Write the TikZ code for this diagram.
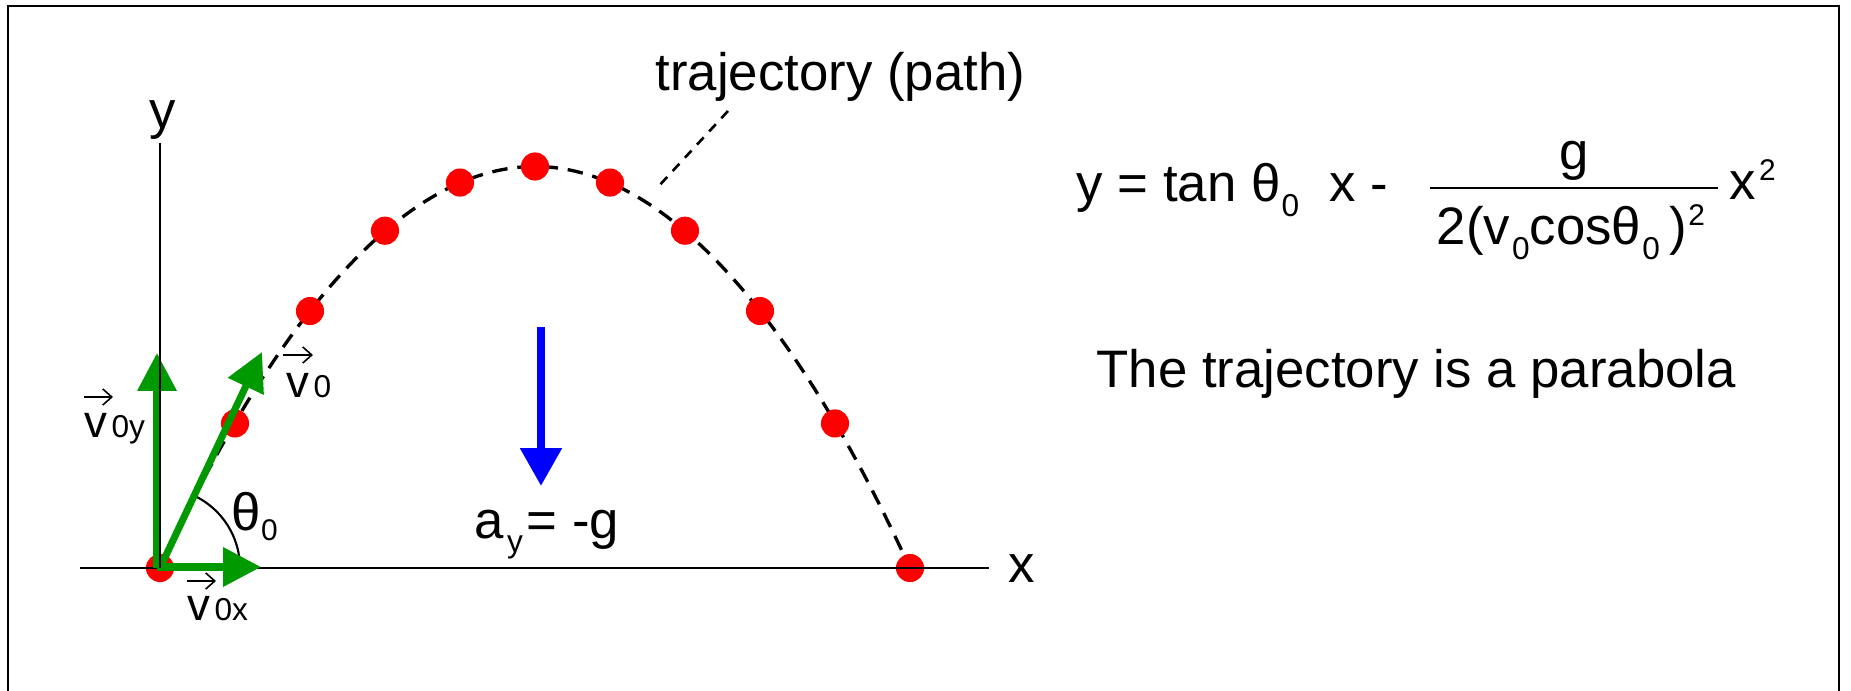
\documentclass[tikz,border=0pt]{standalone}
\usepackage{fontspec}
\setmainfont{Liberation Sans}
\usetikzlibrary{arrows.meta}
\definecolor{vgreen}{RGB}{0,153,0}
\newdimen\px \px=0.28453pt
\newcommand\fs[1]{\fontsize{#1}{#1}\selectfont}
\newcommand\lo[2][0]{\hspace{#1\px}\raisebox{-14\px}{\fs{9}#2}}
\newcommand\hi[2][0]{\hspace{#1\px}\raisebox{19\px}{\fs{8.5}#2}}
\begin{document}
\begin{tikzpicture}[x=0.01cm,y=-0.01cm,
  txt/.style={inner sep=0pt,font=\fs{15}},
  vlab/.style={inner sep=0pt,font=\fs{13}},
  dot/.style={circle,fill=red,draw=none,minimum size=8pt,inner sep=0pt},
  axis/.style={line width=0.75pt},
  garrow/.style={draw=vgreen,line width=2pt,-{Triangle[length=10.8pt,width=10.8pt]}},
  vecarr/.style={line width=0.45pt,-{Straight Barb[length=2.6pt,width=4.6pt]}},
  traj/.style={line width=0.95pt,dash pattern=on 4.4pt off 2.8pt},
  lead/.style={line width=0.75pt,dash pattern=on 2.8pt off 2.3pt}
]
\useasboundingbox (0,0) rectangle (1851,691);
% frame
\draw[line width=0.6pt] (8,691) -- (8,6) -- (1839,6) -- (1839,691);
% trajectory
\coordinate (o) at (160,568);
\coordinate (apex) at (535,166.5);
\coordinate (end) at (910,568);
\draw[traj] (o) parabola bend (apex) (end);
\foreach \k in {0,...,10}{
  \pgfmathsetmacro\xx{160+75*\k}
  \pgfmathsetmacro\yy{568-401.5*(1-((\xx-535)/375)^2)}
  \node[dot] (d\k) at (\xx,\yy) {};
}
% x axis
\coordinate (xl) at (80,568);
\coordinate (xr) at (989,568);
\coordinate (yt) at (160,143);
\draw[axis] (xl) -- (xr);
% angle arc
\path (o) ++(80,0) coordinate (a0);
\draw[line width=0.6pt] (a0) arc[start angle=0,end angle=-65,radius=80];
% green vectors
\coordinate (o2) at (157,568);
\coordinate (v0yt) at (157,353);
\coordinate (v0xt) at (261,567);
\coordinate (o3) at (157,567);
\coordinate (v0t) at (262,352);
\draw[garrow] (o2) -- (v0yt);
\draw[garrow] (o3) -- (v0xt);
\draw[garrow] (o) -- (v0t);
% y axis
\draw[axis] (o) -- (yt);
% gravity arrow
\coordinate (bt) at (541,327);
\coordinate (bb) at (541,486);
\draw[draw=blue,line width=2.3pt,-{Triangle[length=10.8pt,width=11.4pt]}] (bt) -- (bb);
% labels
\node[txt,anchor=base] (ylab) at (163,129) {y};
\node[txt,anchor=base] (xlab) at (1022,582) {x};
\node[vlab,anchor=base west] (v0ylab) at (84,437) {v\hspace{4\px}{\fs{9}0y}};
\node[vlab,anchor=base west] (v0lab) at (286,397) {v\hspace{4\px}{\fs{9}0}};
\node[vlab,anchor=base west] (v0xlab) at (187,620) {v\hspace{4\px}{\fs{9}0x}};
\draw[vecarr] ([shift={(0,-40)}]v0ylab.base west) -- ++(29,0);
\draw[vecarr] ([shift={(-3,-42)}]v0lab.base west) -- ++(30,0);
\draw[vecarr] ([shift={(0,-39)}]v0xlab.base west) -- ++(29,0);
\node[txt,anchor=base west] (thlab) at (231,530) {θ\raisebox{-10\px}{\fs{8.5}0}};
\node[txt,anchor=base west] (aylab) at (474,538) {a\lo[3]{y}\hspace{4\px}= -g};
\node[txt,anchor=base west] (tlab) at (655,91) {trajectory (path)};
\coordinate (lt) at (728,111);
\coordinate (lb) at (657,188);
\draw[lead] (lt) -- (lb);
% equation
\node[txt,anchor=base west] (eql) at (1076,202) {y = tan θ\lo[1]{0}\hspace{30\px}x -};
\draw[line width=0.85pt] (1430,188) -- (1718,188);
\node[txt,anchor=base] (num) at (1574,170) {g};
\node[txt,anchor=base] (den) at (1571,245) {2(v\lo[2]{0}cosθ\lo[1]{0}\hspace{10\px})\hi[1]{2}};
\node[txt,anchor=base west] (xsq) at (1729,200) {x\hi[3]{2}};
\node[txt,anchor=base west] (para) at (1096,387) {The trajectory is a parabola};
\end{tikzpicture}
\end{document}
